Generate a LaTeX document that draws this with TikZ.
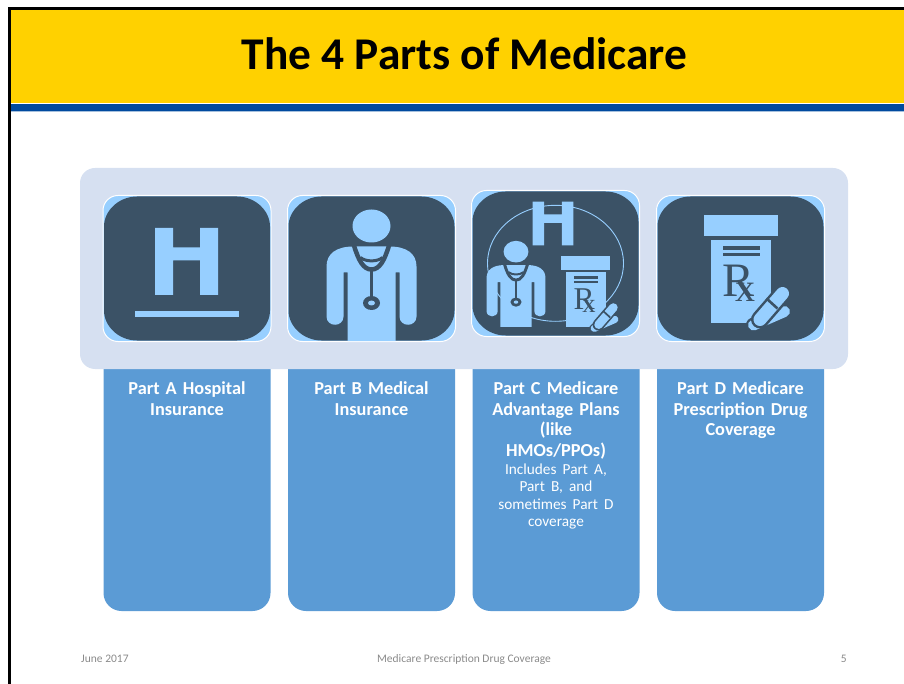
\documentclass[tikz,border=0pt]{standalone}
\usepackage{fontspec}
\setmainfont{Carlito}
\newfontfamily\capfont[WordSpace=0.7]{Carlito}
\newfontfamily\rxfont{Liberation Serif}
\usetikzlibrary{positioning}
\definecolor{iconDark}{HTML}{3B5266}
\definecolor{iconLight}{HTML}{97CFFF}
\definecolor{panelBlue}{HTML}{D6E0F1}
\definecolor{partBlue}{HTML}{5B9BD5}
\definecolor{headYellow}{HTML}{FFD100}
\definecolor{stripBlue}{HTML}{004A9F}
\definecolor{footGray}{HTML}{8A8A8A}
\tikzset{
    header/.style = {
      rectangle,
      fill=headYellow,
      minimum width=893pt,
      minimum height=94pt,
      inner sep=0pt
    },
    panel/.style = {
      rounded corners=15pt,
      rectangle,
      fill=panelBlue,
      minimum width=768pt,
      minimum height=201pt
    },
    iconbox/.style = {
      rounded corners=15pt,
      rectangle,
      draw=white,
      line width=1pt,
      fill=iconLight,
      minimum width=168pt,
      minimum height=146pt
    },
    partbox/.style = {
      rounded corners=18pt,
      rectangle,
      fill=partBlue,
      minimum width=167pt,
      minimum height=271pt
    },
    parttext/.style = {
      anchor=north,
      inner sep=0pt,
      text=white,
      align=center,
      text width=155pt,
      font=\capfont\fontsize{18.3}{20.7}\selectfont\bfseries
    },
    foot/.style = {
      text=footGray,
      inner sep=0pt,
      font=\fontsize{11.5}{13}\selectfont
    },
}
% dark rounded backing of one icon
\newcommand{\iconback}[1]{
  \fill[iconDark, shift={#1}]
    (-83,-42) .. controls (-83,-58) and (-68,-72) .. (-50,-72)
    -- (50,-72) .. controls (68,-72) and (83,-58) .. (83,-42)
    -- (83,42) .. controls (83,58) and (68,72) .. (50,72)
    -- (-50,72) .. controls (-68,72) and (-83,58) .. (-83,42) -- cycle;
}
\newcommand{\hospitalH}[2]{
  \fill[iconLight, shift={#1}, scale=#2]
    (-31.5,-33.5) -- (-13.5,-33.5) -- (-13.5,-14) -- (13.5,-14) -- (13.5,-33.5)
    -- (31.5,-33.5) -- (31.5,33.5) -- (13.5,33.5) -- (13.5,-1) -- (-13.5,-1)
    -- (-13.5,33.5) -- (-31.5,33.5) -- cycle;
}
\newcommand{\doctor}[2]{
  \begin{scope}[shift={#1}, scale=#2]
    \fill[iconLight] (0,-42.5) circle[x radius=19, y radius=16.5];
    \fill[iconLight] (-45,-2) .. controls (-45,-15) and (-35,-22) .. (-18,-22)
      -- (18,-22) .. controls (35,-22) and (45,-15) .. (45,-2)
      -- (45,48) .. controls (45,59) and (28,59) .. (28,48)
      -- (28,4) -- (24,4) -- (24,72.5) -- (-24,72.5) -- (-24,4) -- (-28,4)
      -- (-28,48) .. controls (-28,59) and (-45,59) .. (-45,48) -- cycle;
    \draw[iconDark, line width=#2*4.5pt] (-17.5,-23) .. controls (-13,-8) and (-8,1) .. (0,1)
      .. controls (8,1) and (13,-8) .. (17.5,-23);
    \draw[iconDark, line width=#2*3pt] (-11,-11) .. controls (-6,-6.5) and (6,-6.5) .. (11,-11);
    \draw[iconDark, line width=#2*3.6pt] (0,1) -- (0,28);
    \fill[iconDark] (0,34.5) circle[x radius=8.5, y radius=7];
    \fill[iconLight] (0,34.5) circle[x radius=3.5, y radius=2.5];
  \end{scope}
}
\newcommand{\rxbottle}[2]{
  \begin{scope}[shift={#1}, scale=#2]
    \fill[iconLight] (-37,-53) rectangle (37.5,-32.5);
    \fill[iconLight] (-29.5,-28.5) rectangle (30,54);
    \fill[iconDark] (-18,-22) rectangle (19,-18.5);
    \fill[iconDark] (-18,-15.5) rectangle (19,-12);
    \node[transform shape, anchor=base west, inner sep=0pt, text=iconDark,
      font=\rxfont\fontsize{48}{48}\selectfont] at (-18.5,28)
      {R\kern-18.7pt\lower5pt\hbox{\fontsize{40}{40}\selectfont x}};
    \draw[iconDark, line width=#2*15pt, line cap=round] (13,56.5) -- (44,43);
    \draw[iconLight, line width=#2*11pt, line cap=round] (13,56.5) -- (44,43);
    \draw[iconDark, line width=#2*18pt, line cap=round] (19.5,51) -- (42,25);
    \draw[iconLight, line width=#2*13pt, line cap=round] (19.5,51) -- (42,25);
    \draw[iconDark, line width=#2*2.6pt] (26,30) -- (37,40);
  \end{scope}
}

\begin{document}
\begin{tikzpicture}[x=1pt, y=-1pt]
  \useasboundingbox (0,0) rectangle (904,684);

  % header
  \node[header] (head) at (457.5,56) {};
  \fill[stripBlue] (11,104) rectangle (904,111);
  \fill[stripBlue!35] (11,111) rectangle (904,112);
  \draw[line width=3pt] (9.5,684) -- (9.5,8.5) -- (904,8.5);
  \node[inner sep=0pt, font=\fontsize{45.4}{50}\selectfont\bfseries] (title) at (464.5,54) {The 4 Parts of Medicare};

  % lower boxes, tops hidden by the panel
  \node[partbox] (partA) at (187,475.5) {};
  \node[partbox, right=17.1pt of partA] (partB) {};
  \node[partbox, right=17.1pt of partB] (partC) {};
  \node[partbox, right=17.1pt of partC] (partD) {};

  \node[panel] (band) at (464,268.5) {};

  \node[iconbox] (iconA) at (187,268.5) {};
  \node[iconbox, right=15.5pt of iconA] (iconB) {};
  \node[iconbox, right=15pt of iconB, yshift=5pt] (iconC) {};
  \node[iconbox, right=16pt of iconC, yshift=-5pt] (iconD) {};

  % icons
  \iconback{(iconA.center)}
  \hospitalH{(186.5,261.5)}{1}
  \fill[iconLight] (135,311) rectangle (239,317);

  \iconback{(iconB.center)}
  \doctor{(iconB.center)}{1}

  \iconback{(iconC.center)}
  \draw[iconLight, line width=0.9pt] (555.5,263.3) circle[x radius=68, y radius=58];
  \hospitalH{(553,223.5)}{0.65}
  \doctor{(516,279.5)}{0.655}
  \rxbottle{(585.7,291)}{0.66}

  \iconback{(iconD.center)}
  \rxbottle{(iconD.center)}{1}

  % captions
  \node[parttext] (textA) at (187,381.5) {Part A Hospital\\Insurance};
  \node[parttext] (textB) at (371.5,381.5) {Part B Medical\\Insurance};
  \node[parttext] (textC) at (556,381.5) {Part C Medicare\\Advantage Plans\\(like\\HMOs/PPOs)\\
    {\normalfont\fontsize{15.3}{17.5}\selectfont Includes Part A,\\Part B, and\\sometimes Part D\\coverage\par}};
  \node[parttext] (textD) at (740.5,381.5) {Part D Medicare\\Prescription Drug\\Coverage};

  % footer
  \node[foot, anchor=base west] (date) at (81,662) {June 2017};
  \node[foot, anchor=base] (course) at (464,662) {Medicare Prescription Drug Coverage};
  \node[foot, anchor=base east] (page) at (847,662) {5};
\end{tikzpicture}
\end{document}
